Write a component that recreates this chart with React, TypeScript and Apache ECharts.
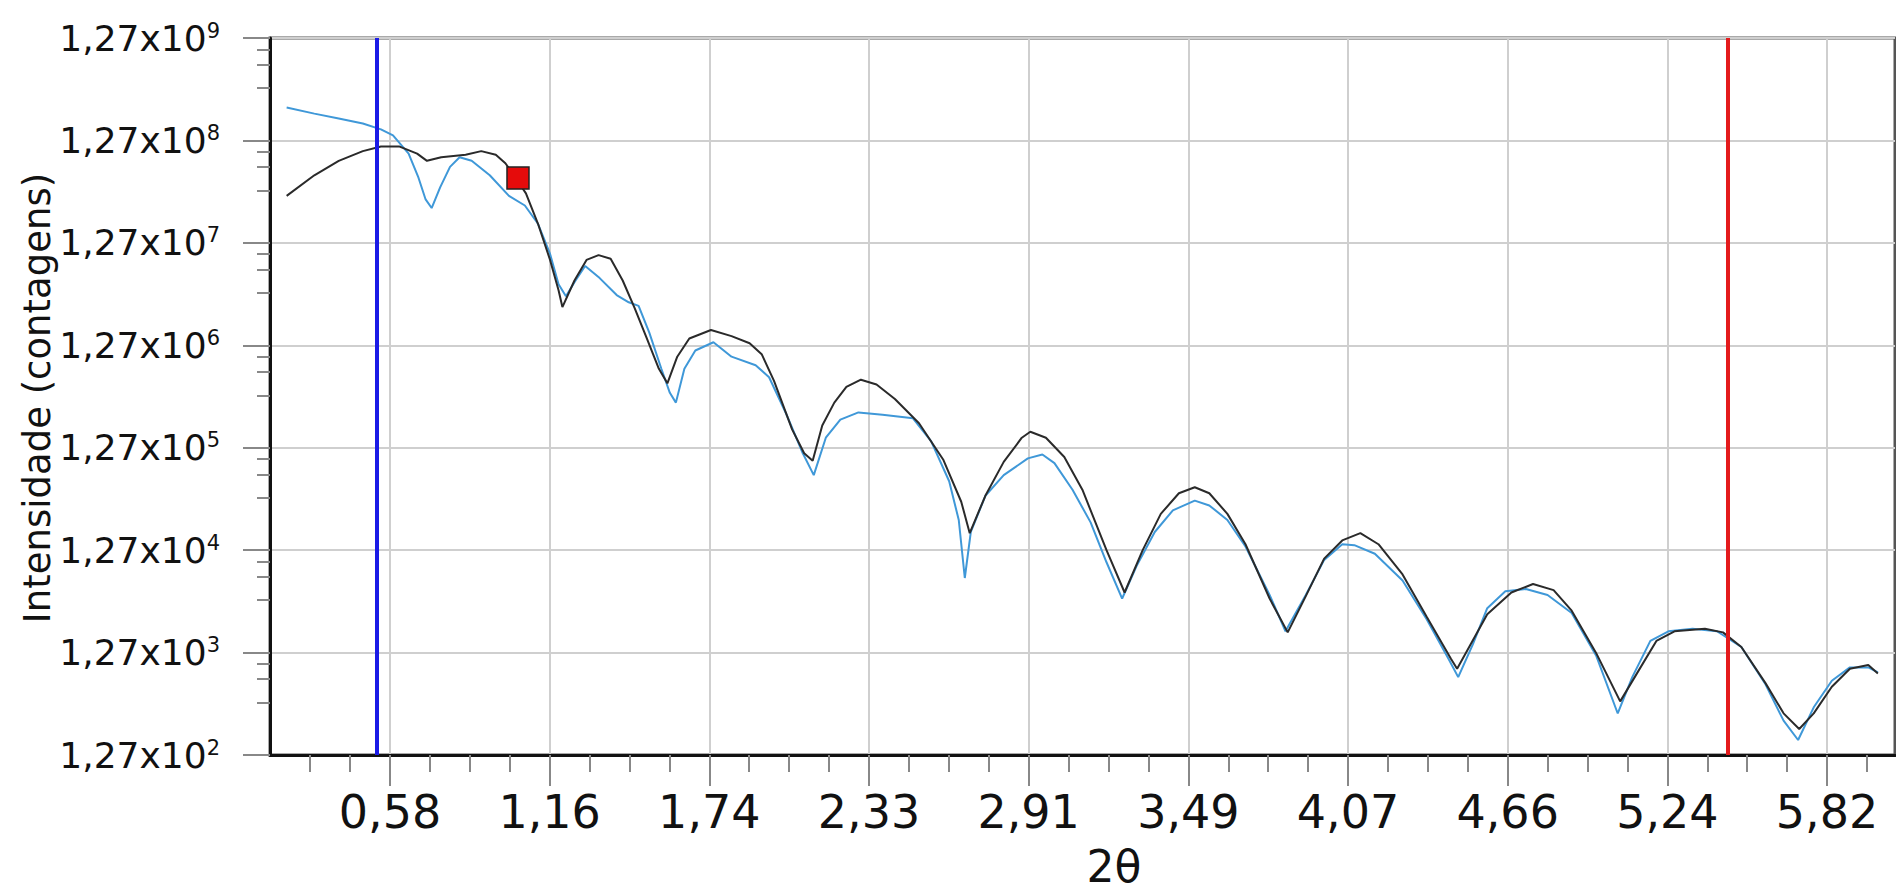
import React, { useEffect, useRef } from "react";
import * as echarts from "echarts";

// ---- data (2θ, intensity in counts) ----
const blackTheta = [
  0.201, 0.302, 0.391, 0.479, 0.545, 0.611, 0.677, 0.713, 0.765, 0.854, 0.911, 0.964, 0.999, 1.03, 1.074, 1.118,
  1.162, 1.193, 1.207, 1.251, 1.295, 1.339, 1.383, 1.427, 1.471, 1.515, 1.559, 1.59, 1.626, 1.67, 1.749, 1.824,
  1.89, 1.934, 1.979, 2.045, 2.089, 2.12, 2.155, 2.199, 2.243, 2.296, 2.353, 2.42, 2.508, 2.596, 2.662, 2.693,
  2.75, 2.817, 2.883, 2.914, 2.971, 3.038, 3.104, 3.192, 3.258, 3.324, 3.39, 3.456, 3.514, 3.567, 3.633, 3.699,
  3.787, 3.853, 3.919, 3.986, 4.052, 4.118, 4.184, 4.272, 4.36, 4.449, 4.471, 4.515, 4.581, 4.669, 4.748, 4.823,
  4.889, 4.978, 5.066, 5.132, 5.198, 5.264, 5.375, 5.441, 5.508, 5.596, 5.662, 5.719, 5.772, 5.838, 5.904, 5.971,
  6.006,
];
const blackIntensity = [
  3.65e7, 5.8e7, 8.03e7, 9.98e7, 1.11e8, 1.11e8, 9.45e7, 8.03e7, 8.71e7, 9.2e7, 9.98e7, 9.2e7, 7.61e7, 5.8e7, 3.86e7, 1.95e7,
  8.65e6, 4.38e6, 3.0e6, 5.45e6, 8.65e6, 9.64e6, 8.89e6, 5.45e6, 2.91e6, 1.48e6, 7.49e5, 5.4e5, 9.83e5, 1.48e6, 1.79e6, 1.56e6,
  1.33e6, 1.04e6, 5.71e5, 1.92e5, 1.12e5, 9.49e4, 2.09e5, 3.5e5, 4.98e5, 5.86e5, 5.26e5, 3.8e5, 2.2e5, 9.75e4, 3.77e4, 1.86e4,
  4.31e4, 9.24e4, 1.59e5, 1.82e5, 1.59e5, 1.03e5, 4.94e4, 1.27e4, 4.9e3, 1.27e4, 2.87e4, 4.56e4, 5.22e4, 4.56e4, 2.87e4, 1.45e4,
  4.28e3, 2.0e3, 4.52e3, 1.05e4, 1.58e4, 1.86e4, 1.45e4, 7.36e3, 2.84e3, 1.1e3, 884, 1.44e3, 3.0e3, 4.9e3, 5.93e3, 5.17e3,
  3.26e3, 1.26e3, 424, 837, 1.65e3, 2.05e3, 2.17e3, 2.0e3, 1.44e3, 639, 324, 228, 324, 589, 884, 959,
  793,
];
const blueTheta = [
  0.201, 0.302, 0.391, 0.479, 0.545, 0.589, 0.646, 0.682, 0.708, 0.73, 0.761, 0.797, 0.832, 0.876, 0.942, 1.012,
  1.07, 1.118, 1.162, 1.193, 1.22, 1.255, 1.29, 1.343, 1.405, 1.449, 1.485, 1.524, 1.568, 1.599, 1.621, 1.652,
  1.692, 1.758, 1.824, 1.912, 1.961, 2.023, 2.084, 2.124, 2.168, 2.221, 2.287, 2.375, 2.486, 2.552, 2.618, 2.653,
  2.675, 2.697, 2.75, 2.817, 2.905, 2.958, 3.002, 3.068, 3.134, 3.192, 3.249, 3.302, 3.368, 3.434, 3.514, 3.567,
  3.633, 3.699, 3.787, 3.845, 3.919, 3.986, 4.052, 4.096, 4.171, 4.272, 4.36, 4.44, 4.475, 4.528, 4.581, 4.647,
  4.722, 4.801, 4.889, 4.978, 5.057, 5.11, 5.176, 5.242, 5.33, 5.419, 5.508, 5.596, 5.662, 5.715, 5.772, 5.838,
  5.904, 5.971, 6.006,
];
const blueIntensity = [
  2.66e8, 2.32e8, 2.08e8, 1.86e8, 1.63e8, 1.42e8, 9.45e7, 5.49e7, 3.37e7, 2.78e7, 4.42e7, 7.01e7, 8.71e7, 8.03e7, 5.8e7, 3.65e7,
  2.94e7, 1.95e7, 9.9e6, 5.02e6, 3.82e6, 5.45e6, 7.55e6, 5.75e6, 3.93e6, 3.34e6, 3.08e6, 1.69e6, 7.49e5, 4.36e5, 3.5e5, 7.49e5,
  1.13e6, 1.36e6, 9.83e5, 8.12e5, 6.19e5, 2.74e5, 1.12e5, 6.85e4, 1.59e5, 2.39e5, 2.81e5, 2.67e5, 2.46e5, 1.47e5, 5.98e4, 2.5e4,
  6.79e3, 1.91e4, 4.31e4, 6.85e4, 1.0e5, 1.09e5, 8.99e4, 4.94e4, 2.37e4, 9.67e3, 4.28e3, 8.92e3, 1.91e4, 3.11e4, 3.87e4, 3.47e4,
  2.5e4, 1.38e4, 4.64e3, 2.05e3, 4.64e3, 1.02e4, 1.45e4, 1.42e4, 1.17e4, 6.43e3, 2.69e3, 1.1e3, 731, 1.52e3, 3.44e3, 5.03e3,
  5.31e3, 4.64e3, 3.09e3, 1.19e3, 323, 731, 1.65e3, 2.05e3, 2.17e3, 2.05e3, 1.44e3, 622, 275, 178, 371, 675,
  910, 910, 815,
];
const markerPoint = [[1.045, 5.45e7]];
const blueCursor = 0.534;
const redCursor = 5.461;

// ---- axes ----
const xMin = 0.1403;
const xMax = 6.0685;
const xTickValues = [0.578, 1.1605, 1.743, 2.3255, 2.908, 3.4905, 4.073, 4.6555, 5.238, 5.8205];
const yMin = 127;
const yMax = 1.27e9;
const yTickValues = [127, 1270, 12700, 127000, 1270000, 12700000, 127000000, 1270000000];

const xMinorTicks: number[] = [];
{
  const d = xTickValues[1] - xTickValues[0];
  for (let k = -4; k < xTickValues.length * 4 + 4; k++) {
    if (k % 4 === 0) continue;
    const v = xTickValues[0] + (d * k) / 4;
    if (v > xMin + 0.02 && v < xMax - 0.02) xMinorTicks.push(v);
  }
}
const yMinorTicks: number[] = [];
for (let i = 0; i < yTickValues.length - 1; i++) {
  const a = yTickValues[i];
  const b = yTickValues[i + 1];
  for (let k = 1; k < 4; k++) yMinorTicks.push(a + ((b - a) * k) / 4);
}

const FONT = "DejaVu Sans";

export default function App() {
  const ref = useRef<HTMLDivElement>(null);
  useEffect(() => {
    if (!ref.current) return;
    const chart = echarts.init(ref.current, null, { renderer: "svg" });
    const black = blackTheta.map((x, i) => [x, blackIntensity[i]]);
    const blue = blueTheta.map((x, i) => [x, blueIntensity[i]]);
    chart.setOption({
      animation: false,
      backgroundColor: "#ffffff",
      grid: {
        left: 270,
        top: 38,
        width: 1625,
        height: 717,
        show: true,
        borderColor: "#555",
        borderWidth: 3,
        containLabel: false,
        outerBoundsMode: "none",
      },
      xAxis: [
        {
          type: "value",
          min: xMin,
          max: xMax,
          position: "bottom",
          axisLine: { show: true, onZero: false, lineStyle: { color: "#111", width: 3 } },
          axisTick: { show: true, customValues: xTickValues, length: 31, lineStyle: { color: "#888", width: 2 } },
          axisLabel: {
            customValues: xTickValues,
            margin: 34,
            fontSize: 46,
            fontFamily: FONT,
            color: "#111",
            formatter: (v: number) => v.toFixed(2).replace(".", ","),
          },
          splitLine: { show: true, lineStyle: { color: "#cfcfcf", width: 2 } },
        },
        {
          type: "value",
          min: xMin,
          max: xMax,
          position: "bottom",
          axisLine: { show: false, onZero: false },
          axisTick: { show: true, customValues: xMinorTicks, length: 17, lineStyle: { color: "#888", width: 2 } },
          axisLabel: { show: false },
          splitLine: { show: false },
        },
      ],
      yAxis: [
        {
          type: "log",
          logBase: 10,
          min: yMin,
          max: yMax,
          position: "left",
          axisLine: { show: true, onZero: false, lineStyle: { color: "#111", width: 3 } },
          axisTick: { show: true, customValues: yTickValues, length: 27, lineStyle: { color: "#888", width: 2 } },
          axisLabel: {
            customValues: yTickValues,
            margin: 50,
            color: "#111",
            formatter: (v: number) => {
              const e = Math.round(Math.log10(v / 1.27));
              return "{b|1,27x10}{s|" + e + "}";
            },
            rich: {
              b: { fontSize: 36, fontFamily: FONT, color: "#111" },
              s: { fontSize: 21, fontFamily: FONT, color: "#111", verticalAlign: "top" },
            },
          },
          splitLine: { show: true, lineStyle: { color: "#cfcfcf", width: 2 } },
        },
        {
          type: "log",
          logBase: 10,
          min: yMin,
          max: yMax,
          position: "left",
          axisLine: { show: false, onZero: false },
          axisTick: { show: true, customValues: yMinorTicks, length: 13, lineStyle: { color: "#888", width: 2 } },
          axisLabel: { show: false },
          splitLine: { show: false },
        },
      ],
      graphic: [
        {
          type: "text",
          x: 37,
          y: 398,
          rotation: Math.PI / 2,
          style: {
            text: "Intensidade (contagens)",
            fontSize: 37,
            fontFamily: FONT,
            fill: "#111",
            align: "center",
            verticalAlign: "middle",
            textAlign: "center",
            textVerticalAlign: "middle",
          },
        },
        {
          type: "text",
          x: 1114,
          y: 866,
          style: {
            text: "2θ",
            fontSize: 44,
            fontFamily: FONT,
            fill: "#111",
            align: "center",
            verticalAlign: "middle",
            textAlign: "center",
            textVerticalAlign: "middle",
          },
        },
      ],
      series: [
        {
          type: "line",
          name: "calc",
          data: blue,
          xAxisIndex: 0,
          yAxisIndex: 0,
          showSymbol: false,
          symbol: "none",
          lineStyle: { color: "#3f98d8", width: 2 },
          z: 3,
        },
        {
          type: "line",
          name: "exp",
          data: black,
          xAxisIndex: 0,
          yAxisIndex: 0,
          showSymbol: false,
          symbol: "none",
          lineStyle: { color: "#2a2a2a", width: 2 },
          z: 4,
        },
        {
          type: "scatter",
          data: markerPoint,
          xAxisIndex: 0,
          yAxisIndex: 0,
          symbol: "rect",
          symbolSize: 22,
          itemStyle: { color: "#e50b0b", borderColor: "#222", borderWidth: 1.5, opacity: 1 },
          z: 6,
          markLine: {
            silent: true,
            symbol: ["none", "none"],
            label: { show: false },
            data: [
              { xAxis: blueCursor, lineStyle: { color: "#1a1ae6", width: 4, type: "solid" } },
              { xAxis: redCursor, lineStyle: { color: "#e41a1c", width: 4, type: "solid" } },
            ],
          },
        },
      ],
    });
    return () => chart.dispose();
  }, []);
  return (
    <div
      ref={ref}
      style={{ position: "fixed", left: 0, top: 0, width: 1896, height: 890, background: "#fff" }}
    />
  );
}
